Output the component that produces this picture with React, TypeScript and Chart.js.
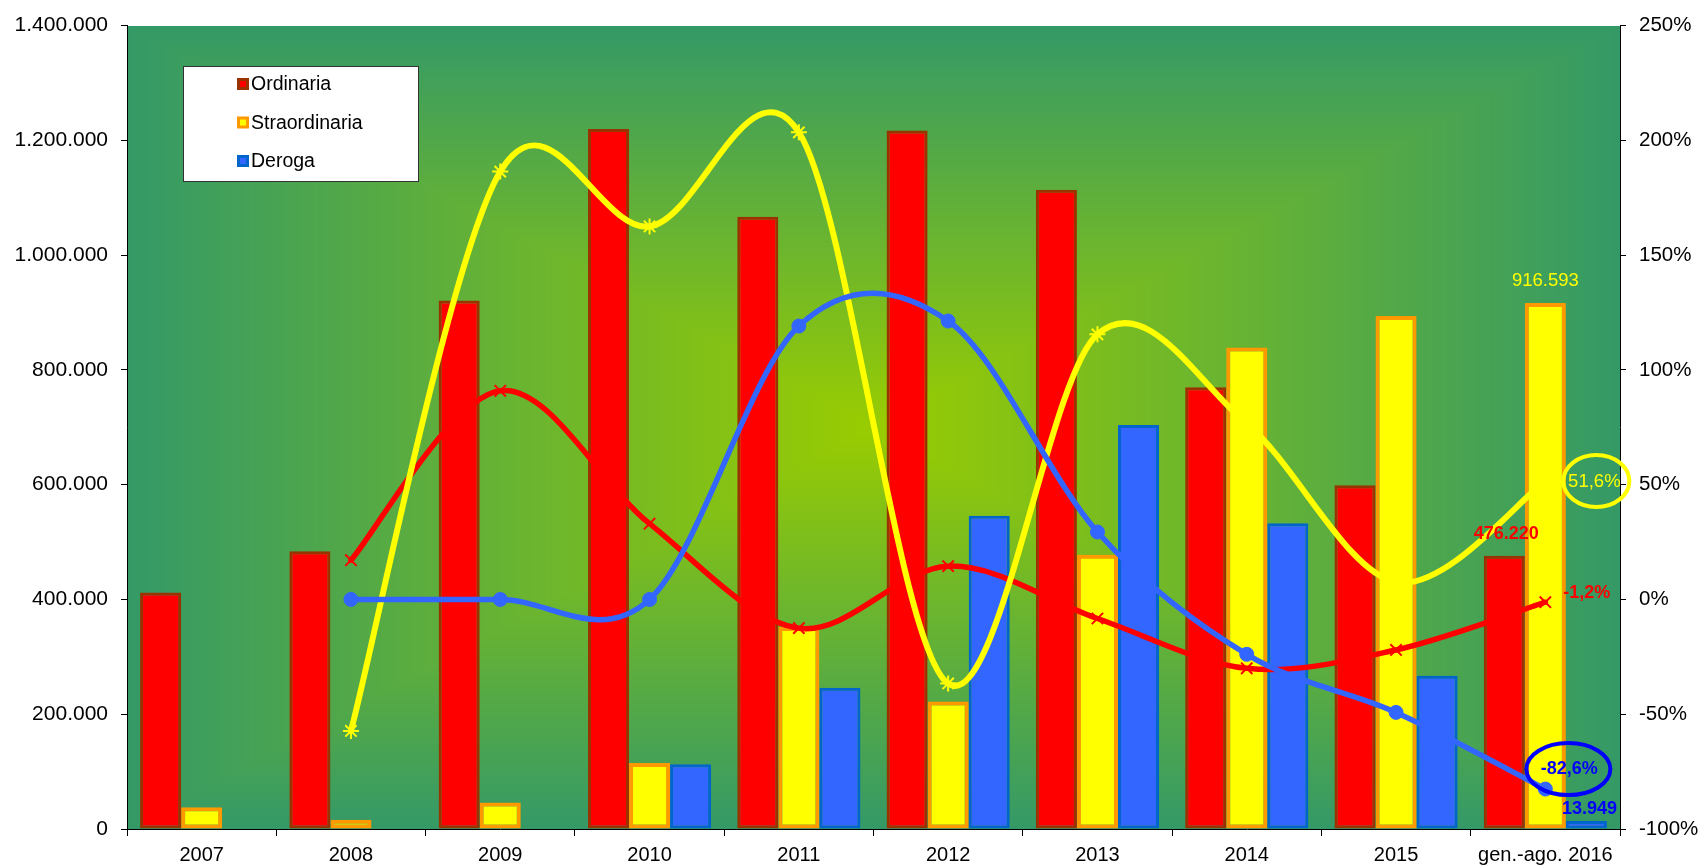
import React, { useEffect, useRef } from "react";
import { Chart, registerables } from "chart.js";

Chart.register(...registerables);

// ---------- DATA ----------
const categories = ["2007", "2008", "2009", "2010", "2011", "2012", "2013", "2014", "2015", "gen.-ago. 2016"];
const ordinaria = [412000, 484000, 921000, 1220000, 1067000, 1217000, 1114000, 770000, 599000, 476220];
const straordinaria = [38000, 16000, 46000, 115000, 352000, 222000, 478000, 839000, 894000, 916593];
const deroga = [null, null, null, 113000, 246000, 546000, 704000, 533000, 267000, 13949];
const ordinariaPct = [null, 17.1, 90.9, 33, -12.5, 14.5, -8.3, -30, -22, -1.2];
const straordinariaPct = [null, -57.3, 186.4, 162.5, 203.5, -36.6, 115.5, 76.6, 7.6, 51.6];
const derogaPct = [null, 0, 0, 0, 119.1, 121.3, 29.4, -23.9, -49.2, -82.6];
const seriesNames = ["Ordinaria", "Straordinaria", "Deroga"];
const leftTicks = { min: 0, max: 1400000, step: 200000 };
const rightTicks = { min: -100, max: 250, step: 50 };

const FONT = "'Liberation Sans', Arial, sans-serif";

const fmtThousands = (v: number) =>
  Math.round(v).toString().replace(/\B(?=(\d{3})+(?!\d))/g, ".");
const fmtPct = (v: number) => v.toFixed(1).replace(".", ",") + "%";

// rectangular "from centre" gradient background of the plot area (per pixel)
let bgCache: { key: string; canvas: HTMLCanvasElement } | null = null;
const bgPlugin = {
  id: "bgPlugin",
  beforeDraw(chart: any) {
    const { ctx, chartArea: a } = chart;
    const w = Math.round(a.right - a.left);
    const h = Math.round(a.bottom - a.top);
    const key = `${w}x${h}`;
    if (!bgCache || bgCache.key !== key) {
      const off = document.createElement("canvas");
      off.width = w;
      off.height = h;
      const octx = off.getContext("2d") as CanvasRenderingContext2D;
      const img = octx.createImageData(w, h);
      const inner = [153, 204, 0];
      const outer = [52, 153, 103];
      const hw = w / 2, hh = h / 2;
      for (let y = 0; y < h; y++) {
        const dy = Math.abs(y + 0.5 - hh) / hh;
        for (let x = 0; x < w; x++) {
          const dx = Math.abs(x + 0.5 - hw) / hw;
          const t = Math.min(1, Math.max(dx, dy));
          const i = (y * w + x) * 4;
          img.data[i] = inner[0] + (outer[0] - inner[0]) * t;
          img.data[i + 1] = inner[1] + (outer[1] - inner[1]) * t;
          img.data[i + 2] = inner[2] + (outer[2] - inner[2]) * t;
          img.data[i + 3] = 255;
        }
      }
      octx.putImageData(img, 0, 0);
      bgCache = { key, canvas: off };
    }
    ctx.drawImage(bgCache.canvas, Math.round(a.left), Math.round(a.top));
  },
};

// Excel-like smoothed lines (uniform Catmull-Rom through the points placed by Chart.js)
const smoothLinePlugin = {
  id: "smoothLines",
  beforeDatasetDraw(chart: any, args: any) {
    const ds = chart.data.datasets[args.index];
    if (ds.type !== "line") return;
    const pts = args.meta.data
      .filter((_p: any, i: number) => ds.data[i] != null)
      .map((p: any) => ({ x: p.x, y: p.y }));
    if (pts.length < 2) return;
    const { ctx, chartArea: a } = chart;
    ctx.save();
    ctx.beginPath();
    ctx.rect(a.left, a.top, a.right - a.left, a.bottom - a.top);
    ctx.clip();
    ctx.strokeStyle = ds.borderColor;
    ctx.lineWidth = ds.curveWidth;
    ctx.lineJoin = "round";
    ctx.lineCap = "round";
    ctx.beginPath();
    ctx.moveTo(pts[0].x, pts[0].y);
    for (let i = 0; i < pts.length - 1; i++) {
      const p0 = pts[i - 1] || pts[i];
      const p1 = pts[i];
      const p2 = pts[i + 1];
      const p3 = pts[i + 2] || pts[i + 1];
      const c1x = p1.x + (p2.x - p0.x) / 6;
      const c1y = p1.y + (p2.y - p0.y) / 6;
      const c2x = p2.x - (p3.x - p1.x) / 6;
      const c2y = p2.y - (p3.y - p1.y) / 6;
      ctx.bezierCurveTo(c1x, c1y, c2x, c2y, p2.x, p2.y);
    }
    ctx.stroke();
    ctx.restore();
  },
};

// legend box inside the plot
const legendPlugin = {
  id: "boxLegend",
  afterDraw(chart: any) {
    const { ctx } = chart;
    const x0 = 183, y0 = 66, w = 235, h = 115;
    ctx.save();
    ctx.fillStyle = "#ffffff";
    ctx.fillRect(x0, y0, w, h);
    ctx.strokeStyle = "#333333";
    ctx.lineWidth = 1;
    ctx.strokeRect(x0 + 0.5, y0 + 0.5, w, h);
    const bars = chart.data.datasets.filter((d: any) => d.type === "bar");
    bars.forEach((d: any, i: number) => {
      const cyy = 84 + i * 38.5;
      ctx.fillStyle = d.borderColor;
      ctx.fillRect(237, cyy - 6, 12, 12);
      ctx.fillStyle = d.backgroundColor;
      ctx.fillRect(240, cyy - 3, 6, 6);
      ctx.fillStyle = "#000";
      ctx.font = `19.5px ${FONT}`;
      ctx.textBaseline = "middle";
      ctx.textAlign = "left";
      ctx.fillText(d.label, 251, cyy + 1);
    });
    ctx.restore();
  },
};

// data labels for the last category
const labelPlugin = {
  id: "lastLabels",
  afterDatasetsDraw(chart: any) {
    const { ctx } = chart;
    const last = categories.length - 1;
    const el = (i: number) => chart.getDatasetMeta(i).data[last];
    ctx.save();
    ctx.textBaseline = "middle";
    ctx.textAlign = "center";

    const eo = el(0), es = el(1), ed = el(2);
    ctx.font = `bold 18px ${FONT}`;
    ctx.fillStyle = "#ff0000";
    ctx.fillText(fmtThousands(ordinaria[last]), eo.x + 2, eo.y - 22);
    ctx.font = `18.5px ${FONT}`;
    ctx.fillStyle = "#ffff00";
    ctx.fillText(fmtThousands(straordinaria[last]), es.x, es.y - 22);
    ctx.font = `bold 18px ${FONT}`;
    ctx.fillStyle = "#0000ff";
    ctx.fillText(fmtThousands(deroga[last] as number), ed.x + 3, ed.y - 12);

    const po = el(3), ps = el(4), pd = el(5);
    ctx.font = `bold 18px ${FONT}`;
    ctx.fillStyle = "#ff0000";
    ctx.textAlign = "left";
    ctx.fillText(fmtPct(ordinariaPct[last] as number), po.x + 18, po.y - 9);

    ctx.textAlign = "center";
    ctx.font = `18.5px ${FONT}`;
    ctx.fillStyle = "#ffff00";
    ctx.fillText(fmtPct(straordinariaPct[last] as number), ps.x + 49, ps.y + 1);
    ctx.strokeStyle = "#ffff00";
    ctx.lineWidth = 4;
    ctx.beginPath();
    ctx.ellipse(ps.x + 51, ps.y, 33, 26, 0, 0, Math.PI * 2);
    ctx.stroke();

    ctx.font = `bold 18px ${FONT}`;
    ctx.fillStyle = "#0000ff";
    ctx.fillText(fmtPct(derogaPct[last] as number), pd.x + 24, pd.y - 20);
    ctx.strokeStyle = "#0000ff";
    ctx.lineWidth = 4;
    ctx.beginPath();
    ctx.ellipse(pd.x + 23, pd.y - 20, 42, 26, 0, 0, Math.PI * 2);
    ctx.stroke();
    ctx.restore();
  },
};

export default function App() {
  const ref = useRef<HTMLCanvasElement | null>(null);

  useEffect(() => {
    if (!ref.current) return;
    const barCommon = {
      type: "bar",
      borderSkipped: false,
      yAxisID: "y",
      order: 10,
      categoryPercentage: 0.825,
      barPercentage: 1,
    };
    const lineCommon = {
      type: "line",
      showLine: false,
      yAxisID: "y1",
      fill: false,
    };
    const chart = new Chart(ref.current, {
      type: "bar",
      data: {
        labels: categories,
        datasets: [
          {
            ...barCommon,
            label: seriesNames[0],
            data: ordinaria,
            backgroundColor: "#ff0000",
            borderColor: "#993300",
            borderWidth: 3,
          },
          {
            ...barCommon,
            label: seriesNames[1],
            data: straordinaria,
            backgroundColor: "#ffff00",
            borderColor: "#ff9900",
            borderWidth: 4,
          },
          {
            ...barCommon,
            label: seriesNames[2],
            data: deroga,
            backgroundColor: "#3366ff",
            borderColor: "#0066cc",
            borderWidth: 3,
          },
          {
            ...lineCommon,
            label: seriesNames[0] + " %",
            data: ordinariaPct,
            borderColor: "#ff0000",
            backgroundColor: "#ff0000",
            curveWidth: 5.5,
            pointStyle: "crossRot",
            pointRadius: 8,
            pointBorderWidth: 2,
            pointBorderColor: "#ff0000",
            order: 3,
          },
          {
            ...lineCommon,
            label: seriesNames[1] + " %",
            data: straordinariaPct,
            borderColor: "#ffff00",
            backgroundColor: "#ffff00",
            curveWidth: 6,
            pointStyle: "star",
            pointRadius: 8,
            pointBorderWidth: 2,
            pointBorderColor: "#ffff00",
            order: 2,
          },
          {
            ...lineCommon,
            label: seriesNames[2] + " %",
            data: derogaPct,
            borderColor: "#3366ff",
            backgroundColor: "#3366ff",
            curveWidth: 5.5,
            pointStyle: "circle",
            pointRadius: 7,
            pointBorderWidth: 1,
            pointBorderColor: "#3366ff",
            order: 1,
          },
        ] as any,
      },
      options: {
        responsive: false,
        animation: false,
        layout: { padding: { top: 22, left: 0, right: 0, bottom: 0 } },
        plugins: {
          legend: { display: false },
          title: { display: false },
          tooltip: { enabled: false },
        },
        scales: {
          x: {
            grid: {
              display: true,
              drawOnChartArea: false,
              drawTicks: true,
              tickLength: 7,
              color: "#000",
              offset: true,
            },
            border: { display: true, color: "#000", width: 1 },
            ticks: {
              color: "#000",
              font: { family: FONT, size: 20 },
              padding: 7,
              maxRotation: 0,
              autoSkip: false,
            },
            afterFit: (s: any) => {
              s.height = 39;
            },
          },
          y: {
            position: "left",
            min: leftTicks.min,
            max: leftTicks.max,
            grid: { drawOnChartArea: false, tickLength: 6, color: "#000" },
            border: { display: true, color: "#000", width: 1 },
            ticks: {
              stepSize: leftTicks.step,
              color: "#000",
              font: { family: FONT, size: 21 },
              padding: 13,
              callback: (v: any) => fmtThousands(Number(v)),
            },
            afterFit: (s: any) => {
              s.width = 127;
            },
          },
          y1: {
            position: "right",
            min: rightTicks.min,
            max: rightTicks.max,
            grid: { drawOnChartArea: false, tickLength: 6, color: "#000" },
            border: { display: true, color: "#000", width: 1 },
            ticks: {
              stepSize: rightTicks.step,
              color: "#000",
              font: { family: FONT, size: 20.5 },
              padding: 13,
              callback: (v: any) => `${v}%`,
            },
            afterFit: (s: any) => {
              s.width = 81;
            },
          },
        },
      } as any,
      plugins: [bgPlugin, smoothLinePlugin, labelPlugin, legendPlugin],
    });
    return () => chart.destroy();
  }, []);

  return (
    <canvas
      ref={ref}
      width={1701}
      height={868}
      style={{ position: "absolute", left: 0, top: 0, display: "block", width: 1701, height: 868 }}
    />
  );
}
